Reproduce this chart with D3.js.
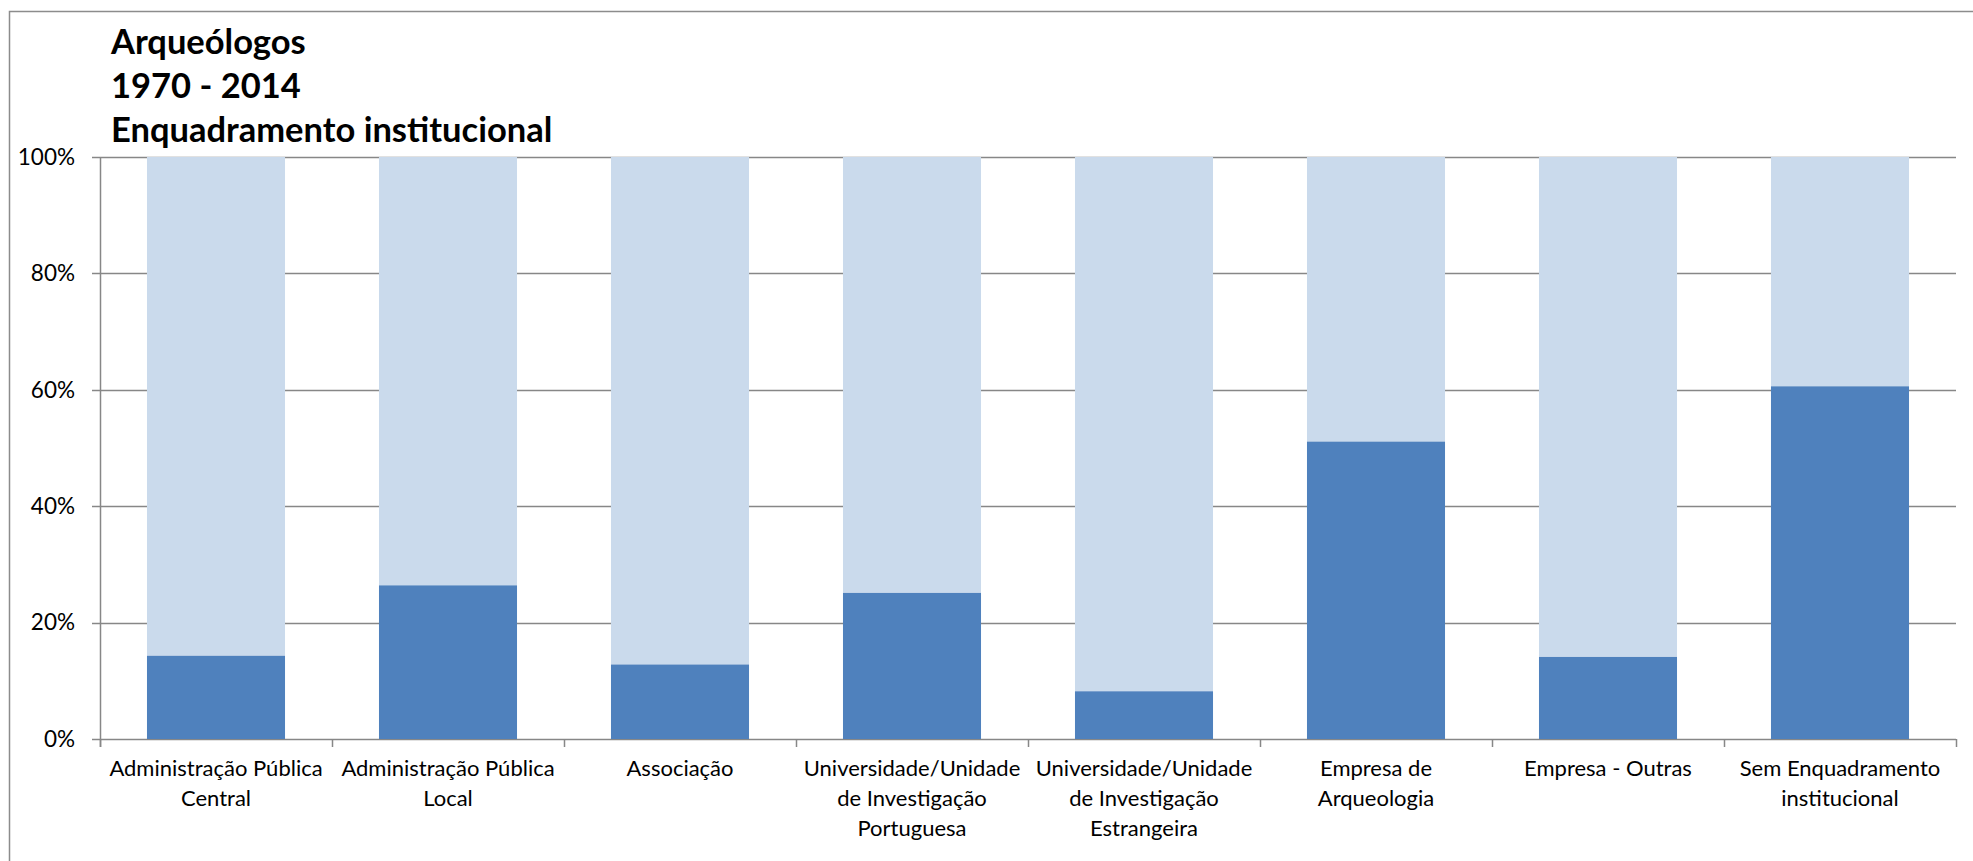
<!DOCTYPE html>
<html><head><meta charset="utf-8">
<script src="https://cdn.jsdelivr.net/npm/d3@7"></script>
<style>body{margin:0;background:#fff}svg{display:block}</style>
</head><body><svg id="c" width="1973" height="861"></svg>
<script>
const titleLines = ["Arqueólogos", "1970 - 2014", "Enquadramento institucional"];
const categories = [
  ["Administração Pública", "Central"],
  ["Administração Pública", "Local"],
  ["Associação"],
  ["Universidade/Unidade", "de Investigação", "Portuguesa"],
  ["Universidade/Unidade", "de Investigação", "Estrangeira"],
  ["Empresa de", "Arqueologia"],
  ["Empresa - Outras"],
  ["Sem Enquadramento", "institucional"]
];
const seriesSim = [14.3, 26.4, 12.8, 25.1, 8.2, 51.1, 14.1, 60.6];
const seriesNao = seriesSim.map(v => 100 - v);
const yTicks = [0, 20, 40, 60, 80, 100];

const svg = d3.select("#c");
const font = "Lato, 'Open Sans', sans-serif";
const m = {left: 100, right: 1956, top: 157, bottom: 739};

svg.append("rect").attr("x", 9.5).attr("y", 11.5).attr("width", 2000).attr("height", 1000)
  .attr("fill", "none").attr("stroke", "#8c8c8c").attr("stroke-width", 1.5);

const x = d3.scaleBand().domain(d3.range(categories.length)).range([m.left, m.right]).paddingInner(0.405).paddingOuter(0.2025);
const y = d3.scaleLinear().domain([0, 100]).range([m.bottom, m.top]);

svg.append("g").selectAll("line").data(yTicks).join("line")
  .attr("x1", m.left - 8).attr("x2", m.right)
  .attr("y1", d => Math.round(y(d)) + 0.5).attr("y2", d => Math.round(y(d)) + 0.5)
  .attr("stroke", "#878787").attr("stroke-width", 1.5);

const data = categories.map((c, i) => ({i, sim: seriesSim[i], nao: seriesNao[i]}));
svg.append("g").selectAll("rect").data(data).join("rect")
  .attr("x", d => x(d.i)).attr("width", x.bandwidth())
  .attr("y", d => y(d.sim + d.nao)).attr("height", d => y(d.sim) - y(d.sim + d.nao))
  .attr("fill", "#cadaec");
svg.append("g").selectAll("rect").data(data).join("rect")
  .attr("x", d => x(d.i)).attr("width", x.bandwidth())
  .attr("y", d => y(d.sim)).attr("height", d => y(0) - y(d.sim))
  .attr("fill", "#4f81bd");

svg.append("line").attr("x1", m.left + 0.5).attr("x2", m.left + 0.5).attr("y1", m.top).attr("y2", m.bottom + 8)
  .attr("stroke", "#878787").attr("stroke-width", 1.5);
const step = x.step();
svg.append("g").selectAll("line").data(d3.range(categories.length + 1)).join("line")
  .attr("x1", d => m.left + d * step + 0.5).attr("x2", d => m.left + d * step + 0.5)
  .attr("y1", m.bottom).attr("y2", m.bottom + 8)
  .attr("stroke", "#878787").attr("stroke-width", 1.5);

svg.append("g").selectAll("text").data(yTicks).join("text")
  .attr("x", 75).attr("y", d => y(d)).attr("dy", "0.35em").attr("text-anchor", "end")
  .attr("font-family", font).attr("font-size", 22.5).attr("fill", "#000")
  .text(d => d + "%");

const xl = svg.append("g").selectAll("text").data(data).join("text")
  .attr("text-anchor", "middle").attr("font-family", font).attr("font-size", 22).attr("fill", "#000");
xl.each(function(d) {
  const t = d3.select(this);
  categories[d.i].forEach((line, k) => {
    t.append("tspan").attr("x", x(d.i) + x.bandwidth() / 2).attr("y", 776 + k * 30).text(line);
  });
});

svg.append("g").selectAll("text").data(titleLines).join("text")
  .attr("x", 111).attr("y", (d, i) => 54 + i * 44)
  .attr("font-family", font).attr("font-weight", "bold").attr("font-size", 34.5).attr("fill", "#000")
  .text(d => d);
</script></body></html>
